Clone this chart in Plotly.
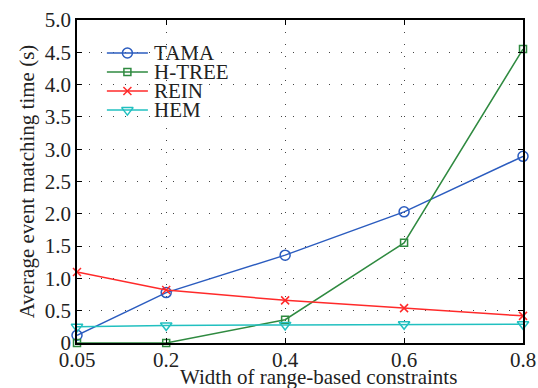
import plotly.graph_objects as go

x_vals = [0.05, 0.2, 0.4, 0.6, 0.8]
tama = [0.12, 0.78, 1.36, 2.03, 2.89]
htree = [0.0, 0.0, 0.36, 1.55, 4.55]
rein = [1.10, 0.82, 0.66, 0.54, 0.42]
hem = [0.25, 0.27, 0.28, 0.29, 0.29]

x_ticks = [0.05, 0.2, 0.4, 0.6, 0.8]
x_ticklabels = ["0.05", "0.2", "0.4", "0.6", "0.8"]
y_ticks = [0, 0.5, 1.0, 1.5, 2.0, 2.5, 3.0, 3.5, 4.0, 4.5, 5.0]
y_ticklabels = ["0", "0.5", "1.0", "1.5", "2.0", "2.5", "3.0", "3.5", "4.0", "4.5", "5.0"]

x_title = "Width of range-based constraints"
y_title = "Average event matching time (s)"

series = [
    ("TAMA", tama, "#2b5cbf", "circle-open", 10),
    ("H-TREE", htree, "#2f8a40", "square-open", 7),
    ("REIN", rein, "#ff2a2a", "x-thin-open", 8),
    ("HEM", hem, "#22c0c0", "triangle-down-open", 10),
]

# legend layout (paper fractions)
leg_rows = [0.898, 0.839, 0.780, 0.721]
leg_x0, leg_x1, leg_xt = 0.067, 0.159, 0.168

font = "Liberation Serif, DejaVu Serif, serif"

fig = go.Figure()
for name, ys, color, sym, size in series:
    fig.add_trace(go.Scatter(
        x=x_vals, y=ys, name=name, mode="lines+markers",
        line=dict(color=color, width=1.5),
        marker=dict(symbol=sym, size=size, color=color,
                    line=dict(color=color, width=1.5)),
        cliponaxis=False, showlegend=False,
    ))

# manual legend on an overlay axis spanning the plot area
for (name, ys, color, sym, size), ry in zip(series, leg_rows):
    fig.add_trace(go.Scatter(
        x=[leg_x0, (leg_x0 + leg_x1) / 2, leg_x1], y=[ry, ry, ry],
        mode="lines", line=dict(color=color, width=1.5),
        xaxis="x2", yaxis="y2", showlegend=False, hoverinfo="skip",
    ))
    fig.add_trace(go.Scatter(
        x=[(leg_x0 + leg_x1) / 2], y=[ry], mode="markers",
        marker=dict(symbol=sym, size=size, color=color,
                    line=dict(color=color, width=1.5)),
        xaxis="x2", yaxis="y2", showlegend=False, hoverinfo="skip",
    ))
    fig.add_annotation(x=leg_xt, y=ry, xref="x2", yref="y2", text=name,
                       showarrow=False, xanchor="left", yanchor="middle",
                       font=dict(size=21, family=font, color="#222"))

# x-axis title (slightly right of centre, as in the reference)
fig.add_annotation(x=0.5426, y=-0.106, xref="paper", yref="paper", text=x_title,
                   showarrow=False, xanchor="center", yanchor="middle",
                   font=dict(size=21, family=font, color="#222"))

fig.update_layout(
    width=538, height=388,
    margin=dict(l=77, r=15, t=20, b=45, autoexpand=False),
    paper_bgcolor="white", plot_bgcolor="white",
    font=dict(family=font, size=21, color="#222"),
    showlegend=False,
    xaxis=dict(
        range=[0.05, 0.8], tickvals=x_ticks, ticktext=x_ticklabels,
        showline=True, linecolor="black", linewidth=1.5, mirror="ticks",
        ticks="inside", ticklen=5, tickcolor="black", ticklabelstandoff=-3,
        showgrid=True, gridcolor="#444", gridwidth=1, griddash="1px,11px",
        zeroline=False, automargin=False,
        tickfont=dict(size=21, family=font),
    ),
    yaxis=dict(
        range=[0, 5.0], tickvals=y_ticks, ticktext=y_ticklabels,
        showline=True, linecolor="black", linewidth=1.5, mirror="ticks",
        ticks="inside", ticklen=5, tickcolor="black",
        showgrid=True, gridcolor="#444", gridwidth=1, griddash="1px,11px",
        zeroline=False, automargin=False,
        title=dict(text=y_title, standoff=4,
                   font=dict(size=21, family=font)),
        tickfont=dict(size=21, family=font),
    ),
    xaxis2=dict(range=[0, 1], overlaying="x", visible=False, fixedrange=True),
    yaxis2=dict(range=[0, 1], overlaying="y", visible=False, fixedrange=True),
)

fig.write_html("out.html")
